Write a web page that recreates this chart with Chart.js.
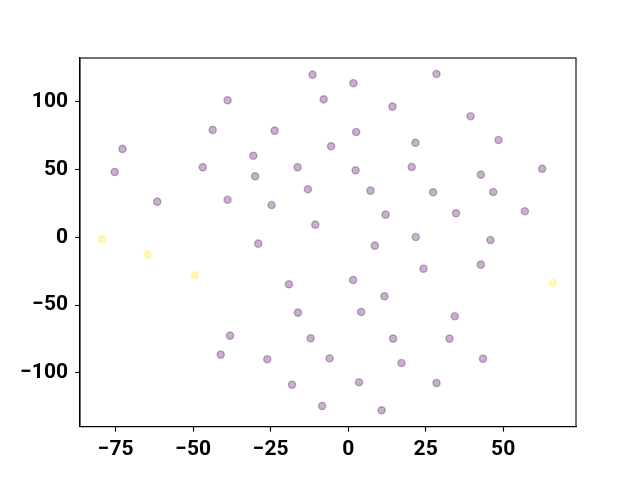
<!DOCTYPE html>
<html>
<head>
<meta charset="utf-8">
<script src="https://cdn.jsdelivr.net/npm/chart.js@4.4.1/dist/chart.umd.min.js"></script>
<style>
html,body{margin:0;padding:0;background:#fff;}
#wrap{width:640px;height:480px;}
</style>
</head>
<body>
<div id="wrap"><canvas id="c" width="640" height="480"></canvas></div>
<script>
// Cluster 0 (purple) points
const purpleX = [-11.5,-38.9,-7.9,-43.7,-23.7,-72.8,-30.6,-75.3,-46.9,-16.3,-30.0,-13.0,-61.6,-38.9,-24.7,-10.6,-29.0,
  28.5,1.7,14.3,39.5,2.6,48.5,-5.5,21.7,20.5,62.6,2.4,42.8,7.2,27.4,46.8,12.1,34.8,57.0,21.8,45.9,8.6,
  -19.1,-16.2,-38.1,-12.1,-41.1,-26.1,-6.0,-18.1,-8.4,
  24.3,42.8,1.6,11.7,4.2,34.4,14.5,32.7,17.2,43.5,3.5,28.5,10.8];
const purpleY = [120.0,101.1,101.8,79.2,78.7,65.2,60.2,48.2,51.7,51.7,45.0,35.4,26.3,27.7,23.8,9.3,-4.7,
  120.5,113.7,96.4,89.3,77.7,71.8,67.2,69.8,51.9,50.6,49.4,46.2,34.4,33.2,33.4,16.7,17.7,19.2,0.2,-2.0,-6.2,
  -34.7,-55.6,-72.6,-74.5,-86.6,-90.0,-89.3,-108.8,-124.5,
  -23.2,-20.2,-31.5,-43.5,-55.1,-58.3,-74.8,-74.8,-92.8,-89.6,-107.0,-107.5,-127.7];
// Cluster 1 (yellow) points
const yellowX = [-79.4,-64.7,-49.5,66.0];
const yellowY = [-1.5,-12.8,-28.0,-33.7];
const xTicks = [-75,-50,-25,0,25,50];
const yTicks = [-100,-50,0,50,100];

const toPts = (xs, ys) => xs.map((x, i) => ({x: x, y: ys[i]}));
const fmt = v => (v < 0 ? '\u2212' + Math.abs(v) : String(v));

const frame = {
  id: 'frame',
  afterDraw(chart) {
    const a = chart.chartArea, ctx = chart.ctx;
    ctx.save();
    ctx.strokeStyle = '#000';
    ctx.lineWidth = 1.1;
    ctx.strokeRect(a.left, a.top, a.right - a.left, a.bottom - a.top);
    ctx.restore();
  }
};

const tickFont = {family: 'Roboto', size: 21, weight: 'bold'};

new Chart(document.getElementById('c'), {
  type: 'scatter',
  data: {
    datasets: [
      {data: toPts(purpleX, purpleY), backgroundColor: 'rgba(68,1,84,0.3)', borderColor: 'rgba(68,1,84,0.3)', borderWidth: 1.4, pointRadius: 3.6, pointHoverRadius: 3.6},
      {data: toPts(yellowX, yellowY), backgroundColor: 'rgba(253,231,37,0.3)', borderColor: 'rgba(253,231,37,0.3)', borderWidth: 1.4, pointRadius: 3.6, pointHoverRadius: 3.6}
    ]
  },
  options: {
    responsive: false,
    animation: false,
    layout: {padding: {top: 58, right: 64, left: 0, bottom: 0}},
    plugins: {legend: {display: false}, tooltip: {enabled: false}},
    scales: {
      x: {
        type: 'linear', min: -86.5, max: 73.5,
        afterBuildTicks: s => { s.ticks = xTicks.map(v => ({value: v})); },
        afterFit: s => { s.height = 53.3; },
        border: {display: true, color: '#000', width: 1.1},
        grid: {drawOnChartArea: false, drawTicks: true, tickLength: 5, color: '#000', tickWidth: 1.1},
        ticks: {color: '#000', padding: 5, maxRotation: 0, font: tickFont, callback: v => fmt(v)}
      },
      y: {
        type: 'linear', min: -139.8, max: 132.3,
        afterBuildTicks: s => { s.ticks = yTicks.map(v => ({value: v})); },
        afterFit: s => { s.width = 80; },
        border: {display: true, color: '#000', width: 1.1},
        grid: {drawOnChartArea: false, drawTicks: true, tickLength: 5, color: '#000', tickWidth: 1.1},
        ticks: {color: '#000', padding: 7, font: tickFont, callback: v => fmt(v)}
      }
    }
  },
  plugins: [frame]
});
</script>
</body>
</html>
